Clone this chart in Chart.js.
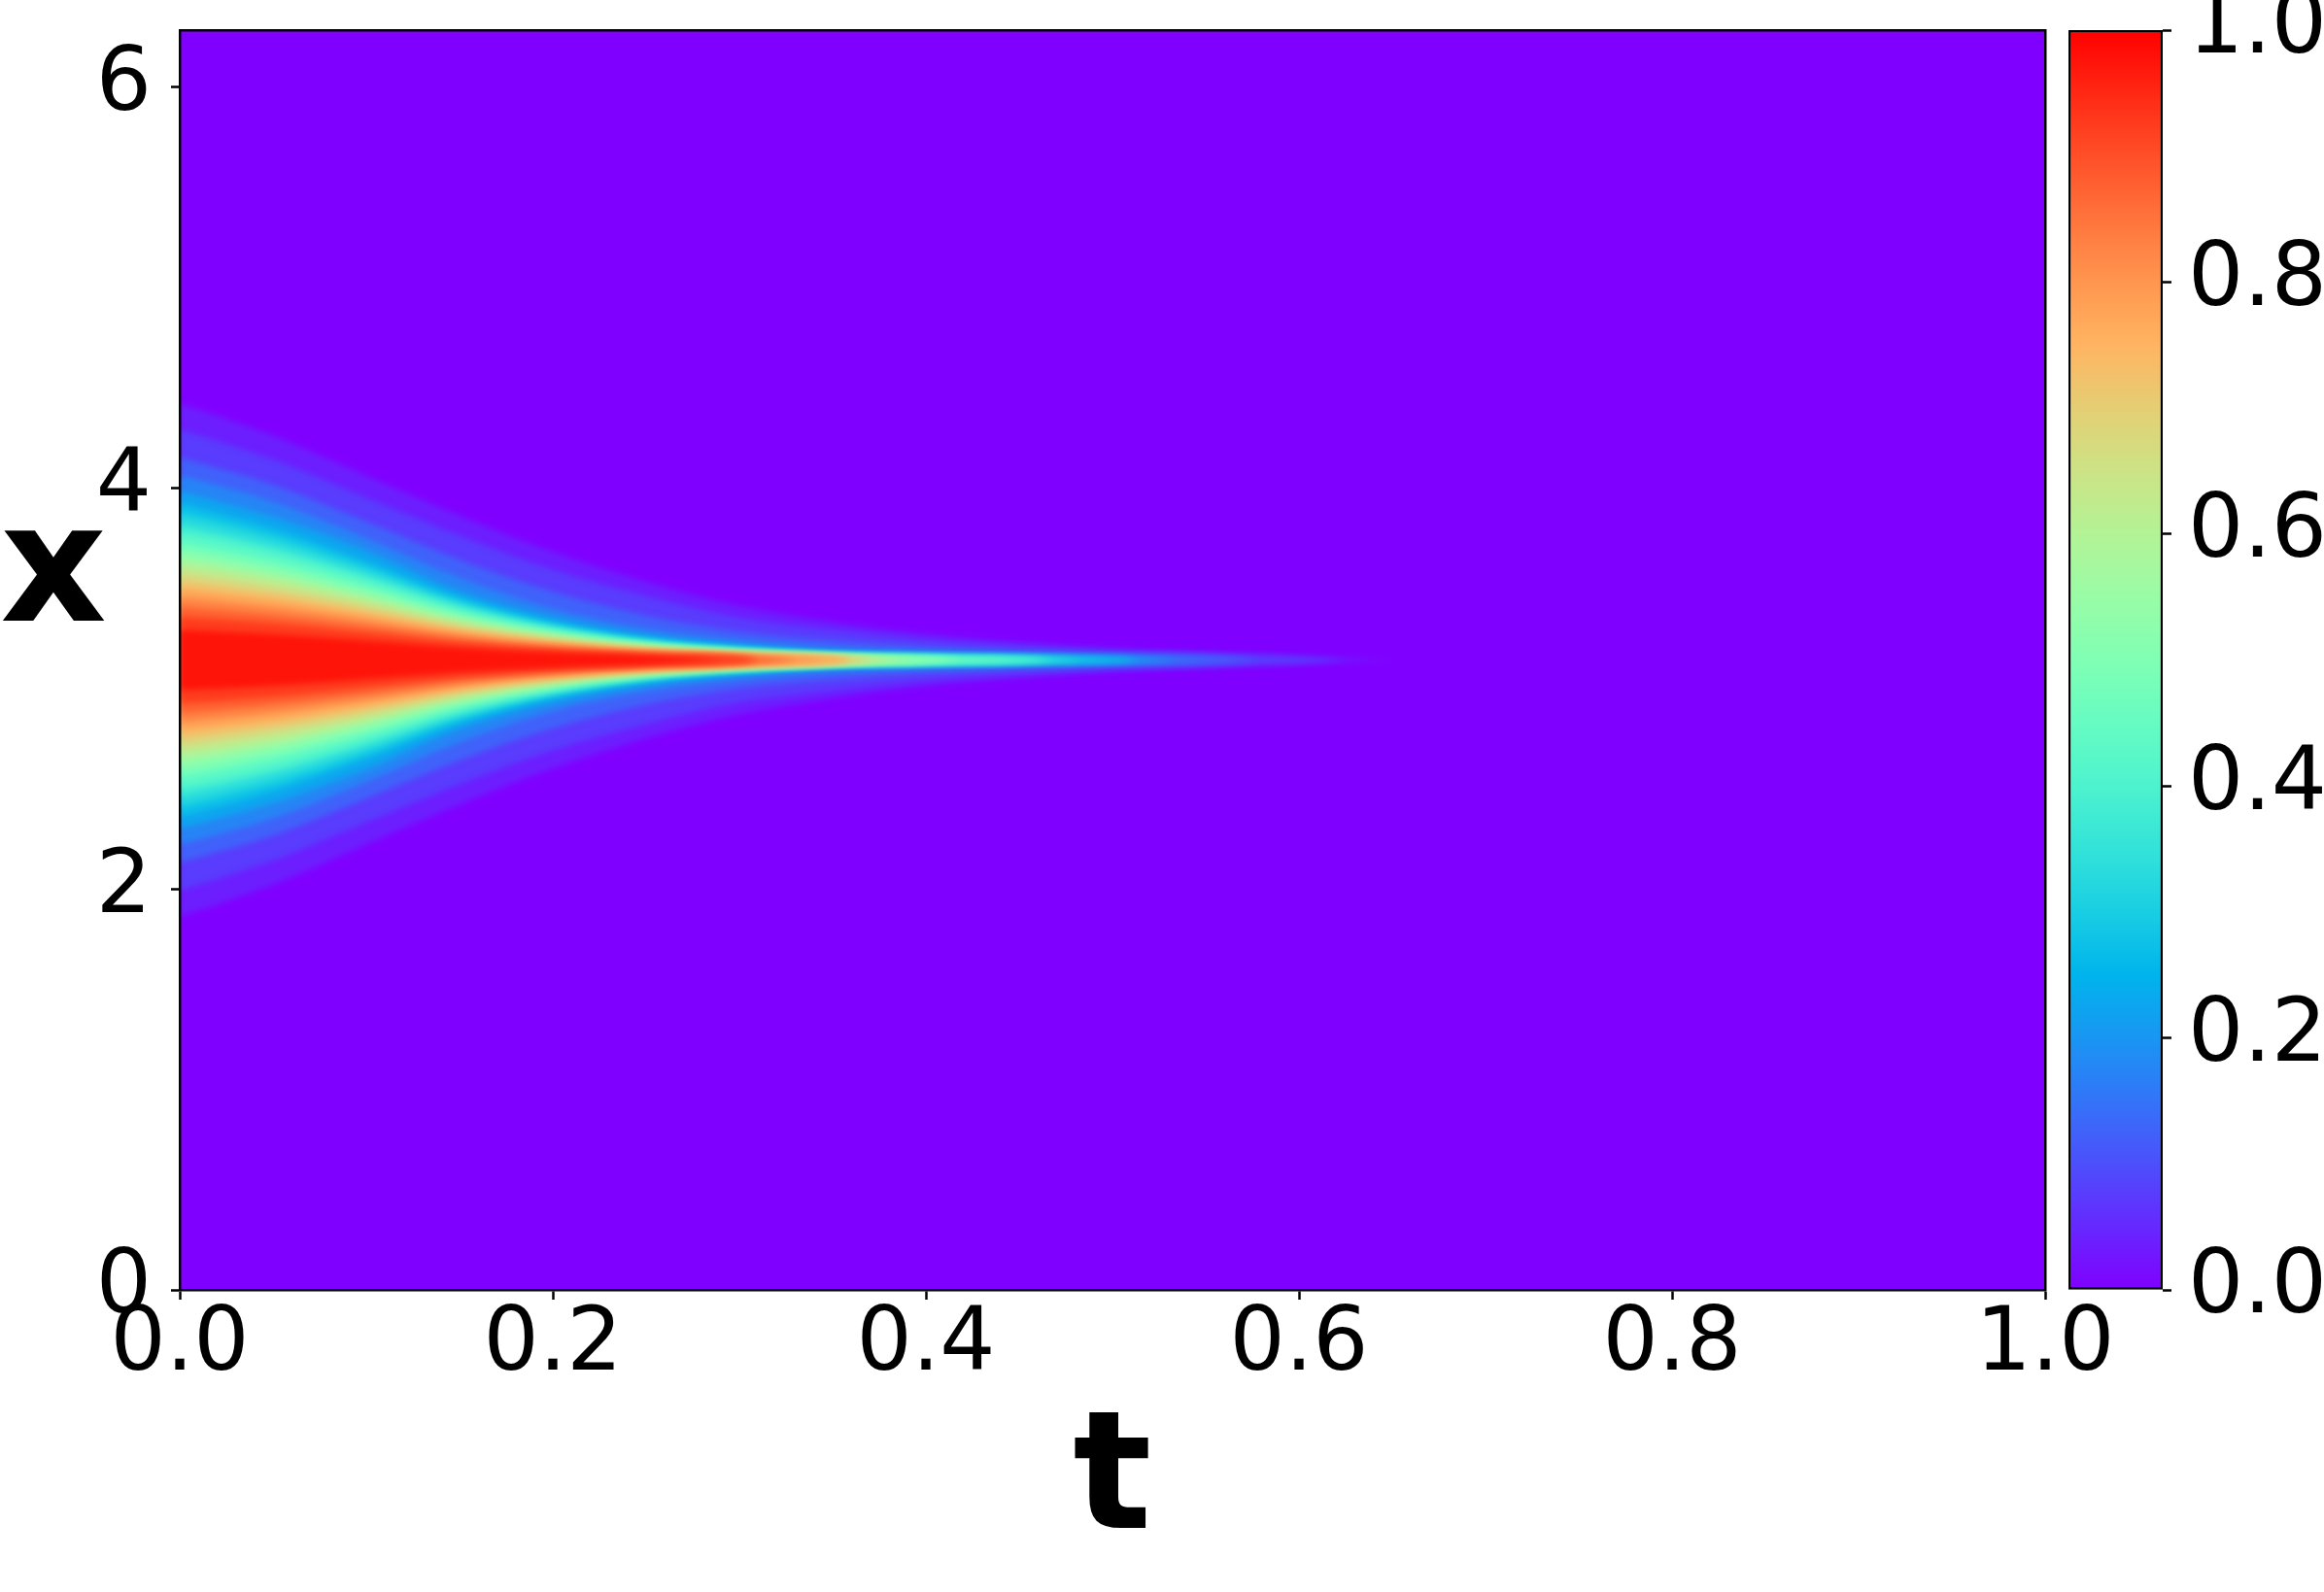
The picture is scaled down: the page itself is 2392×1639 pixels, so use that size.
<!DOCTYPE html>
<html>
<head>
<meta charset="utf-8">
<script src="https://cdn.jsdelivr.net/npm/chart.js@4.4.1/dist/chart.umd.min.js"></script>
<style>
html, body { margin: 0; padding: 0; background: #fff; overflow: hidden; }
#wrap { position: relative; width: 2392px; height: 1639px; overflow: hidden; }
#main { position: absolute; left: 0; top: 0; }
#cbar { position: absolute; left: 2110px; top: 0; }
</style>
</head>
<body>
<div id="wrap">
<canvas id="main" width="2392" height="1639"></canvas>
<canvas id="cbar" width="500" height="1639"></canvas>
</div>
<script>
const X_MAX = 6.283185;   // x runs over [0, 2pi]
const X_MID = 3.141593;   // bump is centred on pi

const tTicks = [0, 0.2, 0.4, 0.6, 0.8, 1.0];
const xTicks = [0, 2, 4, 6];
const cbarTicks = [0, 0.2, 0.4, 0.6, 0.8, 1.0];
const cbarRange = [0, 1];

const tSamples = [0, 0.05, 0.1, 0.15, 0.2, 0.25, 0.3, 0.35, 0.4, 0.45, 0.5, 0.55, 0.6];

// contour levels of u
const levels = [0.025, 0.05, 0.10, 0.15, 0.20, 0.25, 0.30, 0.35, 0.40, 0.45, 0.50,
                0.55, 0.60, 0.65, 0.70, 0.75, 0.80, 0.85, 0.90, 0.95];

// t where the peak falls below each level (contour closes there)
const levelEndT = [0.65, 0.625, 0.58, 0.55, 0.535, 0.515, 0.50, 0.485, 0.47, 0.45, 0.42,
                   0.40, 0.39, 0.38, 0.37, 0.36, 0.346, 0.33, 0.31, 0.29];

// half width |x - pi| of each contour at tSamples, until it closes
const halfWidths = [
  [1.28, 1.12, 0.92, 0.72, 0.54, 0.39, 0.27, 0.19, 0.13, 0.09, 0.06, 0.04, 0.02],
  [1.15, 1.00, 0.81, 0.62, 0.45, 0.32, 0.21, 0.15, 0.10, 0.07, 0.045, 0.03, 0.015],
  [1.01, 0.874, 0.69, 0.50, 0.34, 0.222, 0.141, 0.096, 0.066, 0.045, 0.03, 0.02],
  [0.92, 0.79, 0.607, 0.41, 0.255, 0.156, 0.097, 0.057, 0.04, 0.028, 0.018],
  [0.84, 0.714, 0.546, 0.344, 0.214, 0.126, 0.076, 0.044, 0.029, 0.02, 0.013],
  [0.78, 0.655, 0.491, 0.312, 0.187, 0.105, 0.059, 0.031, 0.02, 0.014, 0.01],
  [0.73, 0.613, 0.46, 0.292, 0.175, 0.099, 0.055, 0.029, 0.018, 0.013],
  [0.68, 0.571, 0.428, 0.272, 0.163, 0.092, 0.051, 0.027, 0.017, 0.012],
  [0.64, 0.538, 0.403, 0.256, 0.154, 0.086, 0.048, 0.026, 0.016, 0.011],
  [0.59, 0.496, 0.372, 0.236, 0.142, 0.08, 0.044, 0.024, 0.015],
  [0.55, 0.462, 0.347, 0.22, 0.132, 0.074, 0.041, 0.022, 0.014],
  [0.51, 0.428, 0.321, 0.204, 0.122, 0.069, 0.038, 0.02],
  [0.475, 0.40, 0.30, 0.19, 0.114, 0.064, 0.036, 0.019],
  [0.436, 0.366, 0.275, 0.174, 0.105, 0.059, 0.033, 0.017],
  [0.397, 0.333, 0.25, 0.159, 0.095, 0.054, 0.03, 0.016],
  [0.357, 0.30, 0.225, 0.143, 0.086, 0.048, 0.027, 0.014],
  [0.314, 0.264, 0.198, 0.126, 0.075, 0.042, 0.024],
  [0.268, 0.225, 0.169, 0.107, 0.064, 0.036, 0.02],
  [0.216, 0.185, 0.138, 0.088, 0.053, 0.03, 0.016],
  [0.15, 0.128, 0.096, 0.061, 0.037, 0.021]
];

const FONT = 'DejaVu Sans';

// matplotlib "rainbow" colormap
function rainbow(v) {
  const clip = a => Math.max(0, Math.min(1, a));
  const r = clip(Math.abs(2 * v - 0.5));
  const g = clip(Math.sin(Math.PI * v));
  const b = clip(Math.cos(Math.PI * v / 2));
  return 'rgb(' + Math.round(r * 255) + ',' + Math.round(g * 255) + ',' + Math.round(b * 255) + ')';
}

function buildDatasets() {
  const sets = [];
  // u ~ 0 everywhere else (drawn a bit past the frame so the blur has no edge)
  sets.push({
    data: [{x: -0.1, y: X_MAX + 1}, {x: 1.1, y: X_MAX + 1}],
    fill: {value: -1},
    backgroundColor: rainbow(0),
    borderWidth: 0,
    pointRadius: 0,
    order: 100
  });
  levels.forEach((lv, k) => {
    const pts = halfWidths[k].map((w, i) => [tSamples[i], w]);
    pts.push([levelEndT[k], 0]);
    const next = k + 1 < levels.length ? levels[k + 1] : 1;
    const color = rainbow((lv + next) / 2);
    sets.push({
      data: pts.map(p => ({x: p[0], y: X_MID + p[1]})),
      fill: '+1',
      backgroundColor: color,
      borderWidth: 0,
      pointRadius: 0,
      cubicInterpolationMode: 'monotone',
      order: levels.length - k
    });
    sets.push({
      data: pts.map(p => ({x: p[0], y: X_MID - p[1]})),
      fill: false,
      borderWidth: 0,
      pointRadius: 0,
      cubicInterpolationMode: 'monotone',
      order: levels.length - k
    });
  });
  return sets;
}

// soften the contour steps, like imshow's interpolation
const softenPlugin = {
  id: 'soften',
  beforeDatasetsDraw(chart) {
    chart.ctx.save();
    chart.ctx.filter = 'blur(3px)';
  },
  afterDatasetsDraw(chart) {
    chart.ctx.restore();
  }
};

// matplotlib puts the unrotated "x" label just above the axis middle
const yLabelPlugin = {
  id: 'yLabel',
  afterDraw(chart) {
    const {ctx, chartArea} = chart;
    ctx.save();
    ctx.font = 'bold 170px "' + FONT + '"';
    ctx.fillStyle = '#000';
    ctx.textAlign = 'center';
    ctx.textBaseline = 'bottom';
    ctx.fillText('x', 55, (chartArea.top + chartArea.bottom) / 2);
    ctx.restore();
  }
};

const tickFont = {family: FONT, size: 90, lineHeight: 1};
const frame = {display: true, color: '#000', width: 2.5, z: 1};

function fixWidth(w) {
  return s => { s.width = w; s.paddingTop = 0; s.paddingBottom = 0; };
}
function fixHeight(h) {
  return s => { s.height = h; s.paddingLeft = 0; s.paddingRight = 0; };
}

new Chart(document.getElementById('main'), {
  type: 'line',
  data: {datasets: buildDatasets()},
  plugins: [softenPlugin, yLabelPlugin],
  options: {
    responsive: false,
    animation: false,
    layout: {padding: 0},
    plugins: {legend: {display: false}, tooltip: {enabled: false}},
    scales: {
      x: {
        type: 'linear', position: 'bottom', min: 0, max: 1,
        afterFit: fixHeight(311),
        afterBuildTicks: s => { s.ticks = tTicks.map(v => ({value: v})); },
        ticks: {callback: v => v.toFixed(1), font: tickFont, color: '#000', padding: 4, maxRotation: 0},
        grid: {drawOnChartArea: false, tickLength: 10, tickWidth: 2.5, tickColor: '#000'},
        border: frame,
        title: {display: true, text: 't', color: '#000',
                font: {family: FONT, size: 170, weight: 'bold'}, padding: {top: 0, bottom: 8}}
      },
      y: {
        type: 'linear', position: 'left', min: 0, max: X_MAX,
        afterFit: fixWidth(185),
        afterBuildTicks: s => { s.ticks = xTicks.map(v => ({value: v})); },
        ticks: {callback: v => String(v), font: tickFont, color: '#000', padding: 20},
        grid: {drawOnChartArea: false, tickLength: 9, tickWidth: 2.5, tickColor: '#000'},
        border: frame
      },
      x2: {
        axis: 'x', type: 'linear', position: 'top', min: 0, max: 1,
        afterFit: fixHeight(31),
        ticks: {display: false}, grid: {display: false}, border: frame
      },
      y2: {
        axis: 'y', type: 'linear', position: 'right', min: 0, max: 1,
        afterFit: fixWidth(287),
        ticks: {display: false}, grid: {display: false}, border: frame
      }
    }
  }
});

// colorbar
function cbarFill(context) {
  const area = context.chart.chartArea;
  if (!area) return rainbow(0.5);
  const g = context.chart.ctx.createLinearGradient(0, area.bottom, 0, area.top);
  for (let i = 0; i <= 20; i++) g.addColorStop(i / 20, rainbow(i / 20));
  return g;
}

new Chart(document.getElementById('cbar'), {
  type: 'bar',
  data: {
    labels: [''],
    datasets: [{
      data: [cbarRange],
      backgroundColor: cbarFill,
      borderColor: '#000',
      borderWidth: 2.5,
      borderSkipped: false,
      barPercentage: 1,
      categoryPercentage: 1
    }]
  },
  options: {
    responsive: false,
    animation: false,
    layout: {padding: {left: 19, top: 31, bottom: 311, right: 0}},
    plugins: {legend: {display: false}, tooltip: {enabled: false}},
    scales: {
      x: {display: false},
      y: {
        position: 'right', min: 0, max: 1,
        afterFit: fixWidth(384),
        afterBuildTicks: s => { s.ticks = cbarTicks.map(v => ({value: v})); },
        ticks: {callback: v => v.toFixed(1), font: tickFont, color: '#000', padding: 17},
        grid: {drawOnChartArea: false, tickLength: 9, tickWidth: 2.5, tickColor: '#000'},
        border: {display: false}
      }
    }
  }
});
</script>
</body>
</html>
